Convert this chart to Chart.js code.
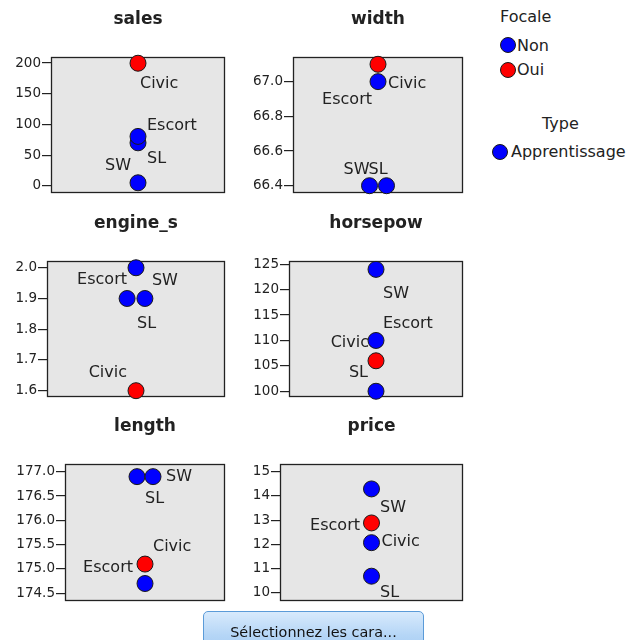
<!DOCTYPE html>
<html><head><meta charset="utf-8">
<script src="https://cdn.jsdelivr.net/npm/chart.js@4/dist/chart.umd.min.js"></script>
<style>
html,body{margin:0;padding:0;background:#fff;}
body{width:631px;height:640px;overflow:hidden;position:relative;font-family:"DejaVu Sans",sans-serif;color:#222;}
canvas{position:absolute;}
.lg{position:absolute;font-size:16px;line-height:18px;white-space:nowrap;color:#222;}
.dot{position:absolute;width:16px;height:16px;box-sizing:border-box;border:1px solid #1a1a1a;border-radius:50%;}
#btn{position:absolute;left:203px;top:611px;width:221px;height:42px;box-sizing:border-box;border:1px solid #5b9bd8;border-radius:5px;
 background:linear-gradient(#d8eafc,#b4d5f6 60%,#a6ccf3);font-size:14.4px;line-height:40px;text-align:center;color:#111;}
</style></head><body>
<canvas id="c0"></canvas><canvas id="c1"></canvas><canvas id="c2"></canvas>
<canvas id="c3"></canvas><canvas id="c4"></canvas><canvas id="c5"></canvas>

<div class="lg" style="left:500px;top:8px;">Focale</div>
<div class="dot" style="left:500px;top:37px;background:#0000ff;"></div>
<div class="lg" style="left:517px;top:37px;">Non</div>
<div class="dot" style="left:500px;top:62px;background:#ff0000;"></div>
<div class="lg" style="left:517px;top:61px;">Oui</div>
<div class="lg" style="left:542px;top:115px;">Type</div>
<div class="dot" style="left:492px;top:144px;background:#0000ff;"></div>
<div class="lg" style="left:511px;top:143px;">Apprentissage</div>
<div id="btn">Sélectionnez les cara...</div>

<script>
// ---- data ----
const cars = ["Civic", "Escort", "SL", "SW"];
const focal = ["Oui", "Non", "Non", "Non"];
const salesVals = [199.685, 70.227, 80.62, 5.223];
const widthVals = [67.1, 67.0, 66.4, 66.4];
const engineVals = [1.6, 2.0, 1.9, 1.9];
const horsepowVals = [106, 110, 100, 124];
const lengthVals = [175.1, 174.7, 176.9, 176.9];
const priceVals = [12.885, 12.07, 10.685, 14.29];

const salesTicks = [0, 50, 100, 150, 200];
const widthTicks = [66.4, 66.6, 66.8, 67.0];
const engineTicks = [1.6, 1.7, 1.8, 1.9, 2.0];
const horsepowTicks = [100, 105, 110, 115, 120, 125];
const lengthTicks = [174.5, 175.0, 175.5, 176.0, 176.5, 177.0];
const priceTicks = [10, 11, 12, 13, 14, 15];

// ---- layout / styling ----
const FOCAL_COLORS = {Oui: "#ff0000", Non: "#0000ff"};
const TEXT = "#222";
// label offsets (px) per car: [dx, dy, align]
const panels = [
  {id:"c0", title:"sales", vals:salesVals, ticks:salesTicks, dec:0, min:-11.4, max:209.8,
   cell:[0,0,238,208], pad:{left:51, top:57, right:13, bottom:15},
   lab:[[2,21,"left"],[9,-17,"left"],[9,22,"left"],[-7,-17,"right"]]},
  {id:"c1", title:"width", vals:widthVals, ticks:widthTicks, dec:1, min:66.358, max:67.142,
   cell:[238,0,238,208], pad:{left:55, top:57, right:13, bottom:15},
   lab:[[10,20,"left"],[-6,18,"right"],[-1,-16,"left"],[-17,-16,"right"]]},
  {id:"c2", title:"engine_s", vals:engineVals, ticks:engineTicks, dec:1, min:1.5795, max:2.022,
   cell:[0,208,238,204], pad:{left:47, top:53, right:13, bottom:15},
   lab:[[-9,-18,"right"],[-9,12,"right"],[10,25,"left"],[7,-18,"left"]]},
  {id:"c3", title:"horsepow", vals:horsepowVals, ticks:horsepowTicks, dec:0, min:98.87, max:125.65,
   cell:[238,208,238,204], pad:{left:51, top:53, right:13, bottom:15},
   lab:[[-7,-18,"right"],[7,-17,"left"],[-8,-18,"right"],[7,24,"left"]]},
  {id:"c4", title:"length", vals:lengthVals, ticks:lengthTicks, dec:1, min:174.34, max:177.16,
   cell:[0,412,238,200], pad:{left:65, top:52, right:13, bottom:11},
   lab:[[8,-17,"left"],[-12,-16,"right"],[8,22,"left"],[13,0,"left"]]},
  {id:"c5", title:"price", vals:priceVals, ticks:priceTicks, dec:0, min:9.66, max:15.32,
   cell:[238,412,238,200], pad:{left:42, top:52, right:13, bottom:11},
   lab:[[10,19,"left"],[-11.5,-17,"right"],[8.5,16.6,"left"],[8.5,19,"left"]]}
];

function dodge(vals){
  // spread points with identical values side by side
  return vals.map((v,i)=>{
    const grp = vals.map((w,j)=>w===v?j:-1).filter(j=>j>=0);
    const k = grp.indexOf(i);
    return (k-(grp.length-1)/2)*2;
  });
}

const framePlugin = {
  id:"frame",
  beforeDraw(chart){
    const a = chart.chartArea, ctx = chart.ctx;
    ctx.save(); ctx.fillStyle = "#e6e6e6";
    ctx.fillRect(a.left, a.top, a.right-a.left, a.bottom-a.top); ctx.restore();
  },
  beforeDatasetsDraw(chart){
    const a = chart.chartArea, ctx = chart.ctx;
    ctx.save(); ctx.strokeStyle = "#222"; ctx.lineWidth = 1.3;
    ctx.strokeRect(a.left+0.5, a.top+0.5, a.right-a.left-1, a.bottom-a.top-1); ctx.restore();
  },
  afterDatasetsDraw(chart){
    const p = chart.options.plugins.frame, ctx = chart.ctx, a = chart.chartArea;
    const meta = chart.getDatasetMeta(0);
    ctx.save();
    ctx.fillStyle = TEXT; ctx.textBaseline = "middle";
    ctx.font = '16px "DejaVu Sans"';
    meta.data.forEach((pt,i)=>{
      const [dx,dy,al] = p.lab[i];
      ctx.textAlign = al;
      ctx.fillText(cars[i], pt.x+dx, pt.y+dy);
    });
    ctx.font = 'bold 17px "DejaVu Sans"'; ctx.textAlign = "center";
    ctx.fillText(p.title, (a.left+a.right)/2, a.top-37);
    ctx.restore();
  }
};

panels.forEach(p=>{
  const cv = document.getElementById(p.id);
  cv.style.left = p.cell[0]+"px"; cv.style.top = p.cell[1]+"px";
  cv.width = p.cell[2]; cv.height = p.cell[3];
  const xs = dodge(p.vals);
  new Chart(cv, {
    type:"scatter",
    data:{datasets:[{
      data:p.vals.map((v,i)=>({x:xs[i], y:v})),
      pointRadius:8, pointHoverRadius:8,
      pointBackgroundColor:focal.map(f=>FOCAL_COLORS[f]),
      pointBorderColor:"#1a1a1a", pointBorderWidth:1, clip:false
    }]},
    options:{
      responsive:false, animation:false, events:[],
      layout:{padding:{left:0, top:p.pad.top, right:p.pad.right, bottom:p.pad.bottom}},
      plugins:{legend:{display:false}, tooltip:{enabled:false}, title:{display:false},
        frame:{lab:p.lab, title:p.title}},
      scales:{
        x:{type:"linear", display:false, min:-10, max:10},
        y:{type:"linear", min:p.min, max:p.max,
          afterBuildTicks:s=>{ s.ticks = p.ticks.map(v=>({value:v})); },
          afterFit:s=>{ s.width = p.pad.left; },
          ticks:{padding:1, color:TEXT, font:{family:"DejaVu Sans", size:13.5},
            callback:v=>Number(v).toFixed(p.dec)},
          grid:{drawOnChartArea:false, drawTicks:true, tickLength:9, color:"#222", lineWidth:1.2},
          border:{display:false}
        }
      }
    },
    plugins:[framePlugin]
  });
});
</script>
</body></html>
